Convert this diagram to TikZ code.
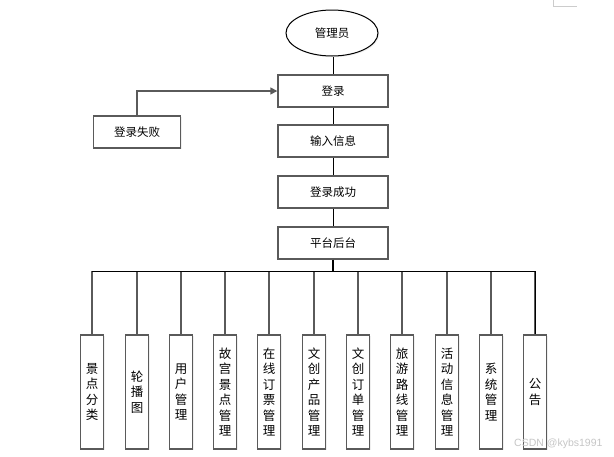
\documentclass[tikz,border=0pt]{standalone}
\usepackage{fontspec}
\newfontfamily\cjk{Noto Sans CJK SC}
\newfontfamily\wmfont{Liberation Sans}
\usetikzlibrary{shapes.geometric,arrows.meta,shadows}
\definecolor{edge}{HTML}{5A5A5A}
\tikzset{
  base/.style={draw=edge, line width=1.4pt, fill=white, inner sep=0pt,
    font=\cjk\fontsize{11.5}{14}\selectfont,
    drop shadow={opacity=0.12, shadow xshift=1.2pt, shadow yshift=-1.2pt}},
  mainbox/.style={base, rectangle, minimum width=110pt, minimum height=32pt},
  startnode/.style={base, ellipse, minimum width=92pt, minimum height=46pt, line width=1pt, draw=black},
  leafbox/.style={base, rectangle, minimum width=23pt, minimum height=114pt, align=center,
    font=\cjk\fontsize{12.5}{15.5}\selectfont},
  conn/.style={draw=edge, line width=1.4pt},
  barline/.style={draw=black, line width=1pt},
}
\begin{document}
\begin{tikzpicture}[x=1pt,y=-1pt]
\useasboundingbox (0,0) rectangle (614,456);
\fill[white] (0,0) rectangle (614,456);
% page corner mark
\draw[gray!40, line width=0.8pt] (553,0) -- (553,6) -- (577,6);

\node[startnode] (admin) at (332,33) {管理员};
\node[mainbox] (login) at (333,91) {登录};
\node[mainbox] (input) at (333,141) {输入信息};
\node[mainbox] (success) at (333,192) {登录成功};
\node[mainbox] (platform) at (333,243) {平台后台};
\node[mainbox, minimum width=87pt] (fail) at (137,132) {登录失败};

\draw[barline] (login.north) -- (login.north |- admin.south);
\draw[barline] (login) -- (input);
\draw[barline] (input) -- (success);
\draw[barline] (success) -- (platform);
\draw[conn, -{Triangle[length=7pt,width=7pt]}] (fail.north) |- (login.west);

\coordinate (bar) at (333,271);
\draw[barline, line width=1.5pt] (platform.south) -- (bar);

\foreach \i/\x/\t in {0/92/{景\\点\\分\\类},1/137/{轮\\播\\图},2/181/{用\\户\\管\\理},3/225/{故\\宫\\景\\点\\管\\理},
  4/269/{在\\线\\订\\票\\管\\理},5/314/{文\\创\\产\\品\\管\\理},6/358/{文\\创\\订\\单\\管\\理},
  7/402/{旅\\游\\路\\线\\管\\理},8/447/{活\\动\\信\\息\\管\\理},9/491/{系\\统\\管\\理},10/535/{公\\告}}{
  \node[leafbox] (b\i) at (\x,392) {\t};
  \draw[conn] (b\i.north) -- (b\i.north |- bar);
}
\draw[barline] (b0.north |- bar) -- (b10.north |- bar);
\draw[barline] (b10.north) -- (b10.north |- bar);

\node[text=gray!45, font=\wmfont\fontsize{10.5}{12}\selectfont, anchor=east] (wm) at (606,444) {CSDN @kybs1991};
\end{tikzpicture}
\end{document}
